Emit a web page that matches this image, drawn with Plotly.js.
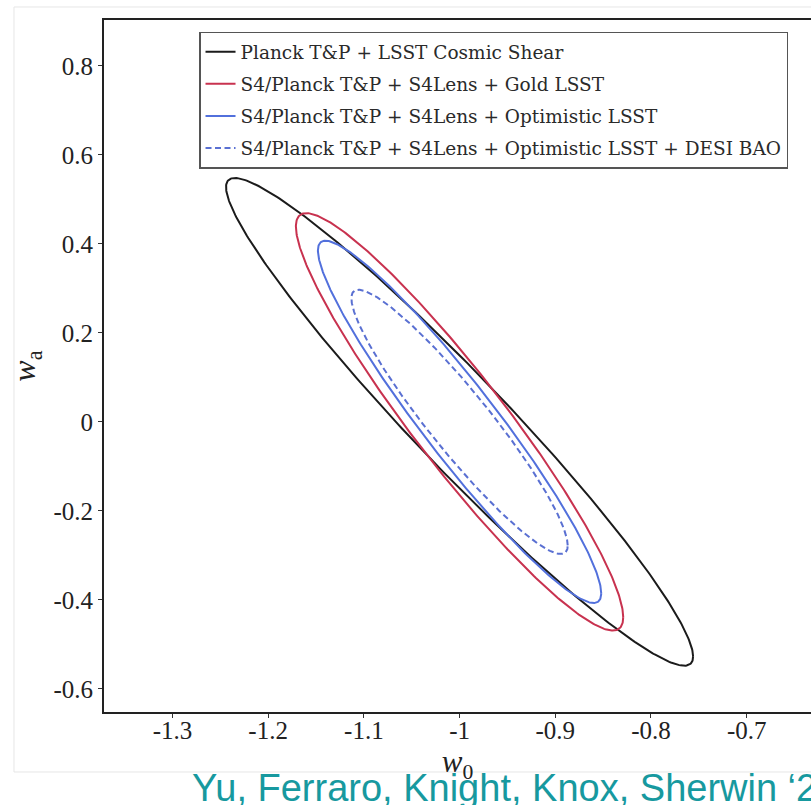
<!DOCTYPE html>
<html>
<head>
<meta charset="utf-8">
<script src="https://cdn.plot.ly/plotly-3.0.1.min.js"></script>
<style>
html, body { margin: 0; padding: 0; overflow: hidden; background: #fff; }
#chart { width: 811px; height: 805px; }
</style>
</head>
<body>
<div id="chart"></div>
<script>
// Forecast ellipses (w0, wa): centre, 1-D extents and correlation
const seriesNames = [
  "Planck T&amp;P + LSST Cosmic Shear",
  "S4/Planck T&amp;P + S4Lens + Gold LSST",
  "S4/Planck T&amp;P + S4Lens + Optimistic LSST",
  "S4/Planck T&amp;P + S4Lens + Optimistic LSST + DESI BAO"
];
const centerW0 = [-1.0, -1.0, -1.0, -1.0];
const centerWa = [0.0, 0.0, 0.0, 0.0];
const extentW0 = [0.244, 0.171, 0.148, 0.113];
const extentWa = [0.548, 0.469, 0.407, 0.297];
const correlation = [-0.962, -0.936, -0.946, -0.935];

const xTickVals = [-1.3, -1.2, -1.1, -1.0, -0.9, -0.8, -0.7];
const xTickText = ["-1.3", "-1.2", "-1.1", "-1", "-0.9", "-0.8", "-0.7"];
const yTickVals = [0.8, 0.6, 0.4, 0.2, 0.0, -0.2, -0.4, -0.6];
const yTickText = ["0.8", "0.6", "0.4", "0.2", "0", "-0.2", "-0.4", "-0.6"];

const colors = ["#1b1b1b", "#c8324f", "#5270dc", "#5a70d2"];
const dashes = ["solid", "solid", "solid", "6px,3.5px"];

function ellipse(i) {
  const xs = [], ys = [];
  const n = 400;
  const s = Math.sqrt(1 - correlation[i] * correlation[i]);
  for (let k = 0; k <= n; k++) {
    const t = 2 * Math.PI * k / n;
    xs.push(centerW0[i] + extentW0[i] * Math.cos(t));
    ys.push(centerWa[i] + extentWa[i] * (correlation[i] * Math.cos(t) + s * Math.sin(t)));
  }
  return {xs, ys};
}

const traces = seriesNames.map((name, i) => {
  const e = ellipse(i);
  return {
    x: e.xs, y: e.ys, type: "scatter", mode: "lines", name: name,
    legendgroup: "g" + i,
    line: {color: colors[i], width: 2, dash: dashes[i]},
    hoverinfo: "skip"
  };
});

const serif = "'Liberation Serif', 'DejaVu Serif', serif";

const layout = {
  width: 811, height: 805,
  margin: {l: 104, r: 0, t: 20, b: 93},
  paper_bgcolor: "#ffffff", plot_bgcolor: "#ffffff",
  showlegend: true,
  legend: {
    x: 0.1344, y: 0.983, xanchor: "left", yanchor: "top",
    bgcolor: "rgba(255,255,255,0.9)", bordercolor: "#555", borderwidth: 1.5,
    font: {family: "'DejaVu Serif', serif", size: 18.5, color: "#2a2a2a"},
    tracegroupgap: 5, itemwidth: 30
  },
  xaxis: {
    range: [-1.3715, -0.6328],
    tickvals: xTickVals, ticktext: xTickText,
    ticks: "outside", ticklen: 4, tickwidth: 1, tickcolor: "#333",
    ticklabelstandoff: -9,
    showline: true, linecolor: "#222", linewidth: 2, mirror: true,
    showgrid: false, zeroline: false,
    tickfont: {family: serif, size: 25, color: "#222"},
    title: {text: "<i>w</i><sub>0</sub>", font: {family: serif, size: 31, color: "#222"}, standoff: 0}
  },
  yaxis: {
    range: [-0.652, 0.903],
    tickvals: yTickVals, ticktext: yTickText,
    ticks: "outside", ticklen: 4, tickwidth: 1, tickcolor: "#333",
    showline: true, linecolor: "#222", linewidth: 2, mirror: false,
    showgrid: false, zeroline: false,
    tickfont: {family: serif, size: 25, color: "#222"},
    title: {text: "<i>w</i><sub>a</sub>", font: {family: serif, size: 32, color: "#222"}, standoff: 8}
  },
  shapes: [{
    type: "rect", xref: "paper", yref: "paper", layer: "below",
    x0: -0.1273, x1: 1.2, y0: -0.0867, y1: 1.0188,
    line: {color: "#e6e6e6", width: 1}
  }],
  annotations: [{
    text: "Yu, Ferraro, Knight, Knox, Sherwin ‘21",
    xref: "paper", yref: "paper", x: 0.1216, y: -0.11,
    xanchor: "left", yanchor: "middle", showarrow: false,
    font: {family: "'Liberation Sans', Arial, sans-serif", size: 38, color: "#17999f"}
  }]
};

Plotly.newPlot("chart", traces, layout, {displayModeBar: false, staticPlot: true});
</script>
</body>
</html>
